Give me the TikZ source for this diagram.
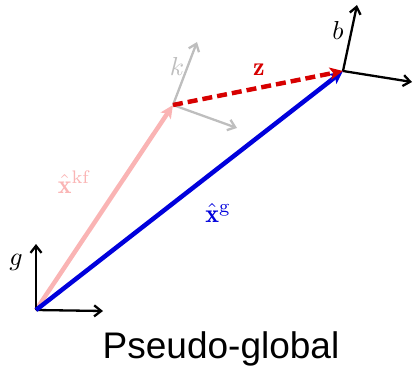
\documentclass[tikz,border=0pt]{standalone}
\usepackage{graphicx}
\usepackage{fontspec}
\newfontfamily\arialfont{Liberation Sans}
\usetikzlibrary{arrows.meta}
\definecolor{pinkc}{RGB}{250,180,180}
\definecolor{bluec}{RGB}{0,0,220}
\definecolor{redc}{RGB}{215,0,0}
\definecolor{grayc}{RGB}{190,190,190}
\newcommand{\labmath}[1]{\scalebox{2.6}{$#1$}}
\tikzset{
  axis/.style={line width=2.3pt,-{Straight Barb[length=7pt,width=11pt]}},
  vec/.style={line width=4.5pt,-{Stealth[length=13pt,width=12pt,inset=3pt]}},
  lab/.style={inner sep=0pt},
}
\begin{document}
\begin{tikzpicture}[x=1pt,y=-1pt]
\useasboundingbox (0,0) rectangle (413,369);
% frame points
\coordinate (G) at (36,310);
\coordinate (Gy) at (36,244);
\coordinate (Gx) at (103,311);
\coordinate (K) at (173,105);
\coordinate (Ky) at (197,42);
\coordinate (Kx) at (237,128);
\coordinate (B) at (343,71);
\coordinate (By) at (357,5);
\coordinate (Bx) at (412,82);
% k frame (gray)
\draw[axis,grayc] (K) -- (Ky);
\draw[axis,grayc] (K) -- (Kx);
% pink vector
\draw[vec,pinkc] (G) -- (K);
% global frame
\draw[axis,black] (G) -- (Gy);
\draw[axis,black] (G) -- (Gx);
% b frame
\draw[axis,black] (B) -- (By);
\draw[axis,black] (B) -- (Bx);
% blue vector
\draw[vec,bluec] (G) -- (B);
% red dashed
\draw[vec,redc,dash pattern=on 10pt off 5pt] (K) -- (B);
% labels
\node[lab] (lg) at (16,262) {\labmath{g}};
\node[lab,text=grayc] (lk) at (177,66) {\labmath{k}};
\node[lab] (lb) at (338,30) {\labmath{b}};
\node[lab,text=redc] (lz) at (259,70) {\labmath{\mathbf{z}}};
\node[lab,text=bluec] (lxg) at (218,213) {\labmath{\hat{\mathbf{x}}^{\mathrm{g}}}};
\node[lab,text=pinkc] (lxkf) at (74,182) {\labmath{\hat{\mathbf{x}}^{\mathrm{kf}}}};
\node[font=\arialfont\fontsize{37}{42}\selectfont, inner sep=0pt, anchor=base] (title) at (221,358) {Pseudo-global};
\end{tikzpicture}
\end{document}
